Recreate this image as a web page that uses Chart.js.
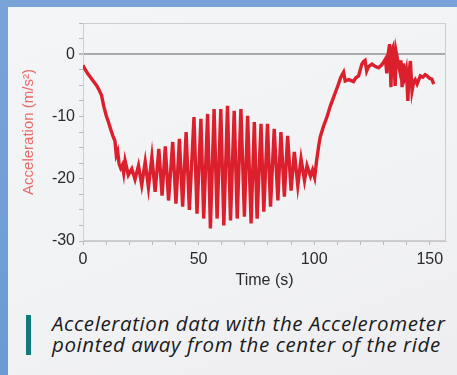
<!DOCTYPE html>
<html>
<head>
<meta charset="utf-8">
<script src="https://cdn.jsdelivr.net/npm/chart.js@4.4.0/dist/chart.umd.min.js"></script>
<style>
 html, body { margin:0; padding:0; }
 body {
   width:457px; height:375px; overflow:hidden; position:relative;
   background: linear-gradient(180deg, #79a3d9 0%, #6b9bd4 100%);
 }
 #panel {
   position:absolute; left:8px; top:7px; width:449px; height:368px;
   background: linear-gradient(160deg, #f4f5f7 0%, #f1f2f4 60%, #eeeef0 100%);
 }
 #chart-box { position:absolute; left:0; top:0; }
 #bar { position:absolute; left:18px; top:308px; width:5px; height:40px; background:#117b7b; }
 #caption {
   position:absolute; left:44px; top:306px;
   font-family:"Open Sans", sans-serif; font-style:italic; font-size:20.5px;
   letter-spacing:0.6px; line-height:21px; color:#1b1b1b; white-space:nowrap;
 }
</style>
</head>
<body>
<div id="panel">
  <div id="chart-box"><canvas id="accel-chart" width="449" height="283"></canvas></div>
  <div id="bar"></div>
  <div id="caption">Acceleration data with the Accelerometer<br>pointed away from the center of the ride</div>
</div>
<script>
// time (s) and acceleration (m/s^2)
const timeSec = [
  0, 1, 2, 3, 4, 5, 6, 7, 8, 9, 10, 11, 12, 13, 13.8, 14.4, 15, 15.6, 16.3, 17, 17.6,
  18.2, 19.6, 21.1, 22.5, 24.0, 25.4, 26.9, 28.3, 29.8, 31.2, 32.8, 34.2, 35.6, 37.0,
  38.8, 40.2, 41.7, 43.1, 44.6, 46.0, 48.0, 49.3, 51.0, 52.2, 53.9, 55.1, 56.7, 58.0,
  59.6, 60.9, 62.5, 63.8, 65.4, 66.7, 68.3, 69.8, 71.2, 72.7, 74.1, 75.3, 77.0, 78.2,
  79.8, 81.1, 82.7, 84.3, 85.6, 87.1, 88.5, 90.0, 91.4, 92.9, 94.3, 95.8, 96.9, 98.4,
  99.3, 100.2, 101.0, 102.0, 102.6, 104.0, 105.5, 107.0, 108.4, 109.5, 110.5, 111.5,
  112.7, 113.4, 115.0, 117.0, 118.0, 119.2, 120.0, 120.6, 121.3, 122.0, 122.7, 123.5,
  125.0, 126.5, 127.8, 129.0, 130.0, 130.8, 131.4, 131.8, 132.6, 133.2, 133.6, 134.1,
  134.6, 135.0, 135.5, 136.0, 136.9, 137.5, 138.0, 138.5, 139.2, 139.8, 140.1, 140.5,
  141.0, 141.6, 142.3, 143.0, 143.7, 144.5, 145.9, 147.0, 148.0, 148.8, 150.0, 150.9, 151.7
];
const accel = [
  -1.8, -2.5, -3.1, -3.6, -4.1, -4.6, -5.1, -5.8, -6.6, -8.4, -9.8, -10.9, -12.1, -13.2, -13.9, -16.2, -15.6, -17.6, -18.3, -17.8, -19.1,
  -17.1, -19.4, -18.4, -20.1, -17.9, -21.0, -17.3, -21.4, -16.5, -22.1, -15.2, -22.7, -14.8, -23.5,
  -14.1, -24.0, -13.6, -24.5, -12.5, -25.0, -10.1, -25.6, -10.4, -26.4, -9.6, -28.0, -8.8, -26.4,
  -8.8, -27.5, -8.3, -26.7, -9.1, -26.4, -8.8, -26.1, -9.9, -27.2, -10.9, -26.4, -11.2, -25.3,
  -11.2, -24.5, -12.0, -23.5, -12.5, -22.9, -13.1, -21.9, -15.7, -21.1, -16.8, -20.3, -17.9, -19.6,
  -18.6, -19.8, -17.2, -14.6, -13.3, -11.6, -10.1, -8.3, -6.9, -5.8, -4.8, -3.7,
  -2.9, -4.3, -4.1, -4.4, -3.8, -3.5, -2.4, -1.6, -1.2, -1.0, -2.7, -2.0,
  -1.6, -2.0, -2.2, -1.8, -1.3, -0.8, -3.1, -0.5, 1.6, -5.3, 0.6, 1.1,
  -2.0, -5.1, 0.2, -0.8, -2.5, -1.0, -5.3, -1.5, -3.5, -2.5, -4.3, -7.5,
  -3.0, -1.1, -5.9, -4.5, -4.1, -4.8, -3.5, -3.7, -3.3, -3.5, -3.9, -4.0, -4.8
];
const xTickMarks = [0, 10, 20, 30, 40, 50, 60, 70, 80, 90, 100, 110, 120, 130, 140, 150];
const xLabelTicks = [0, 50, 100, 150];
const yLabelTicks = [-30, -20, -10, 0];

const points = timeSec.map((t, i) => ({x: t, y: accel[i]}));

// light box round the plot area
const frame = {
  id: 'frame',
  beforeDatasetsDraw(chart){
    const a = chart.chartArea, ctx = chart.ctx;
    ctx.save();
    ctx.strokeStyle = '#cfcfcf';
    ctx.lineWidth = 1;
    ctx.strokeRect(a.left + 0.5, a.top + 0.5, a.right - a.left - 1, a.bottom - a.top - 1);
    ctx.restore();
  }
};

new Chart(document.getElementById('accel-chart'), {
  type: 'line',
  data: {
    datasets: [{
      data: points,
      borderColor: '#dc1f2d',
      borderWidth: 3.4,
      pointRadius: 0,
      tension: 0
    }]
  },
  options: {
    responsive: false,
    animation: false,
    layout: { padding: { top: 16, right: 11, left: 0, bottom: 0 } },
    plugins: { legend: { display: false }, tooltip: { enabled: false } },
    scales: {
      x: {
        type: 'linear', min: 0, max: 157,
        afterFit: s => { s.height = 49; },
        afterBuildTicks: s => { s.ticks = xTickMarks.map(v => ({value: v})); },
        ticks: {
          autoSkip: false, maxRotation: 0, padding: 5,
          color: '#2a2a2a', font: { family: 'Liberation Sans, Arial', size: 16 },
          callback: v => xLabelTicks.includes(v) ? v : ''
        },
        grid: { drawOnChartArea: false, tickLength: 4, color: '#b8b8b8' },
        border: { color: '#c8c8c8' },
        title: {
          display: true, text: 'Time (s)', color: '#2a2a2a', padding: 0,
          font: { family: 'Liberation Sans, Arial', size: 16 }
        }
      },
      y: {
        min: -30, max: 5,
        afterFit: s => { s.width = 75; },
        ticks: {
          stepSize: 2.5, autoSkip: false, padding: 4,
          color: '#2a2a2a', font: { family: 'Liberation Sans, Arial', size: 16 },
          callback: v => yLabelTicks.includes(v) ? v : ''
        },
        grid: {
          tickLength: 4,
          tickColor: '#b8b8b8',
          color: c => c.tick && c.tick.value === 0 ? '#a9a9a9' : 'rgba(0,0,0,0)',
          lineWidth: c => c.tick && c.tick.value === 0 ? 2 : 1
        },
        border: { color: '#c8c8c8' },
        title: {
          display: true, text: 'Acceleration (m/s²)', color: '#ea6a68',
          padding: { top: 12, bottom: 0 },
          font: { family: 'Liberation Sans, Arial', size: 15 }
        }
      }
    }
  },
  plugins: [frame]
});
</script>
</body>
</html>
